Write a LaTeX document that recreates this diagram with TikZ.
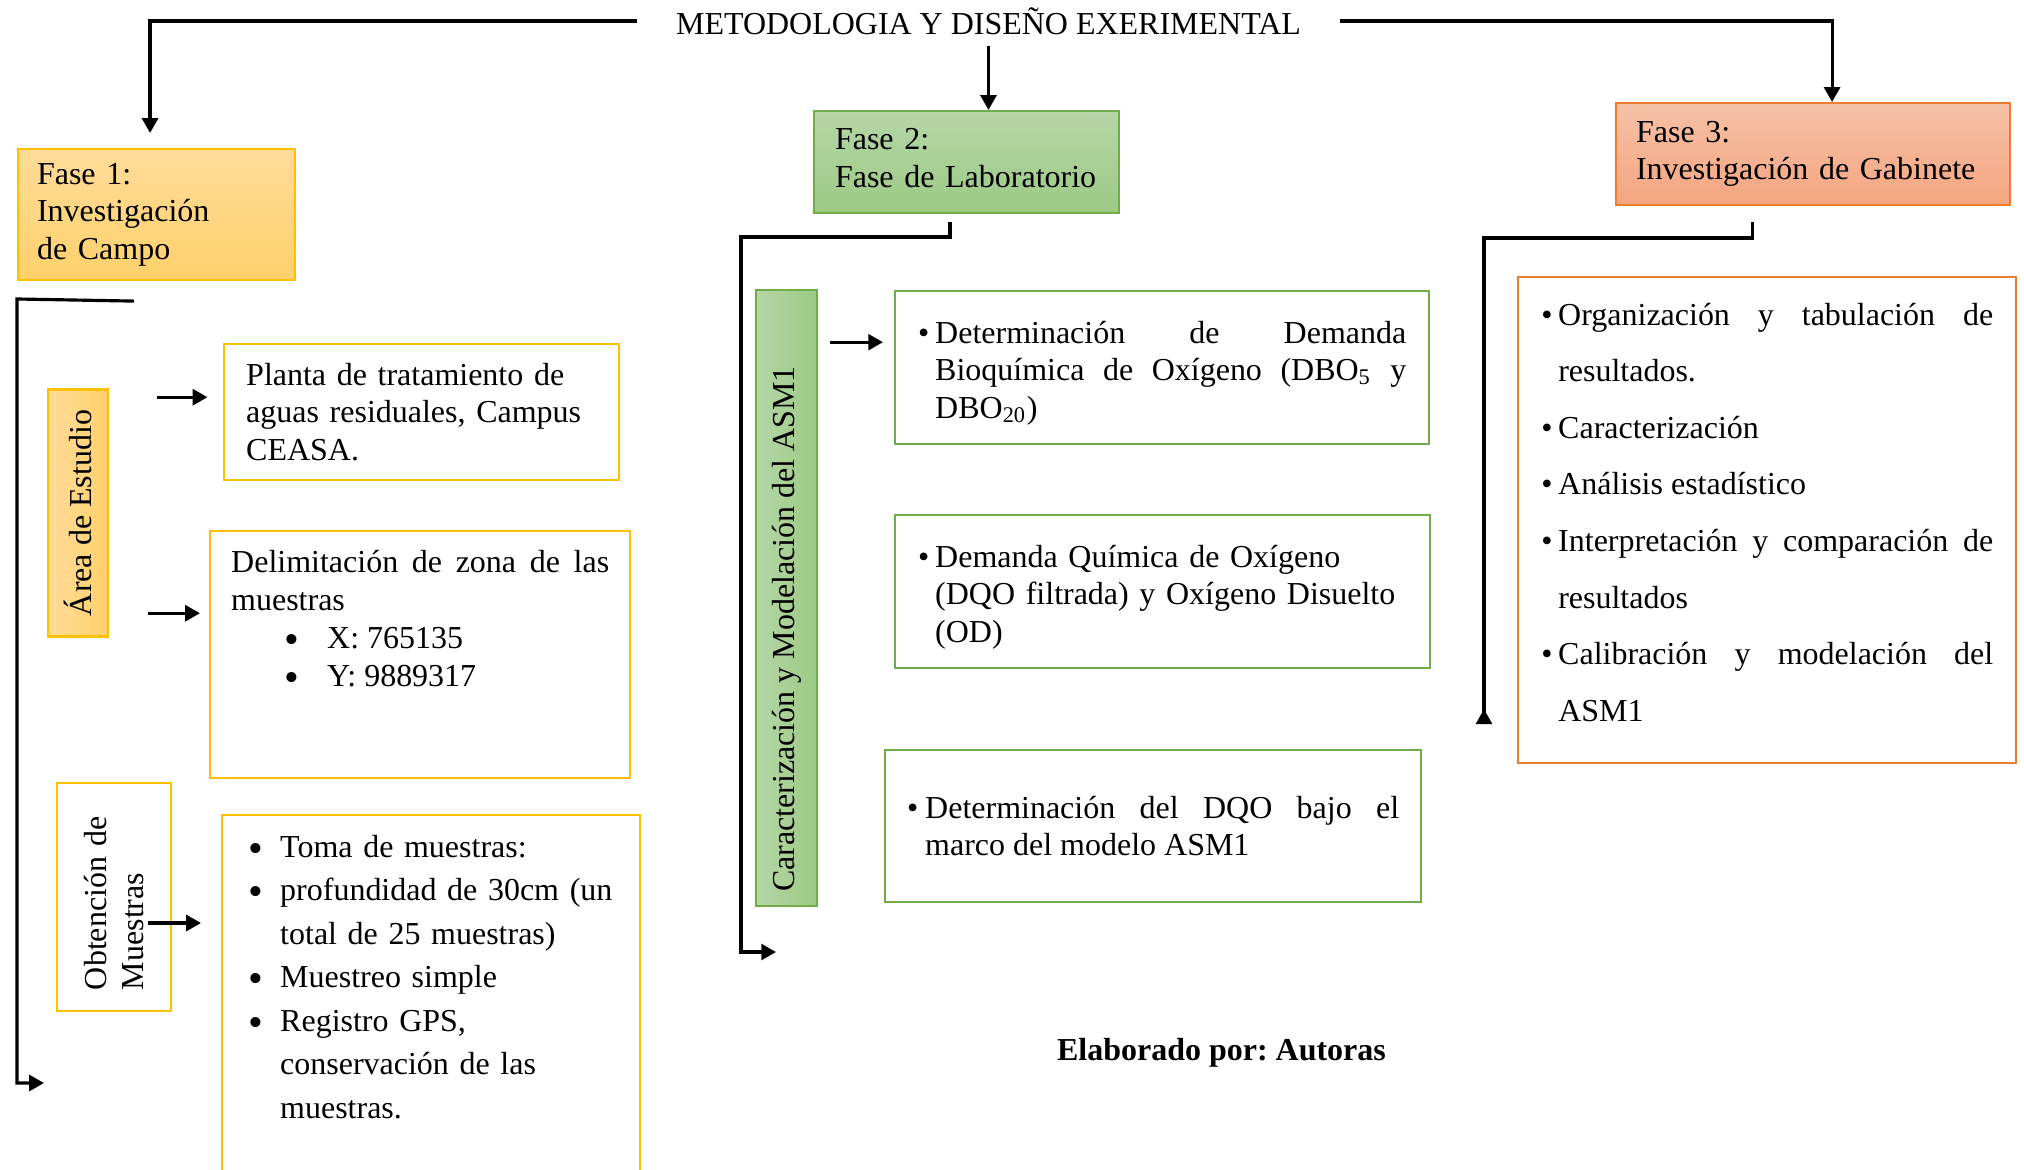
\documentclass[tikz,border=0pt]{standalone}
\usepackage{fontspec}
\setmainfont{Liberation Serif}
\usepackage{xcolor}
\usetikzlibrary{arrows.meta}

\definecolor{gold}{HTML}{FFC000}
\definecolor{goldtop}{HTML}{FFDB99}
\definecolor{goldbot}{HTML}{FFD16B}
\definecolor{leaf}{HTML}{70AD47}
\definecolor{leaftop}{HTML}{B5D6A7}
\definecolor{leafbot}{HTML}{9CCA84}
\definecolor{rust}{HTML}{ED7D31}
\definecolor{rusttop}{HTML}{F6C1A6}
\definecolor{rustbot}{HTML}{F4A580}

% bullet item: lead space, bullet box
\newcommand\bitem[2]{\hangindent=\dimexpr#1+#2\relax\hangafter=1\noindent\hspace*{#1}\makebox[#2][l]{\textbullet}}
% same with the larger list bullet
\newcommand\lbitem[2]{\hangindent=\dimexpr#1+#2\relax\hangafter=1\noindent\hspace*{#1}\makebox[#2][l]{\smash{\raisebox{-1.4pt}{\fontsize{12}{12}\selectfont\textbullet}}}}

\frenchspacing

\begin{document}
\begin{tikzpicture}[
	font=\fontsize{9.1}{10.67}\selectfont,
	conn/.style={line width=0.9pt, -{Triangle[width=4.5pt,length=4.2pt]}},
	revconn/.style={line width=0.9pt, -{Triangle[reversed,width=4.5pt,length=4.2pt]}},
	fasebox/.style={draw, line width=0.6pt, anchor=north west, align=left, inner ysep=0pt},
	txtbox/.style={draw, line width=0.7pt, anchor=north west, inner ysep=0pt},
	sidebox/.style={draw, line width=0.6pt, rotate=90, inner sep=0pt}
]

\useasboundingbox (0,0) rectangle (20.24,-11.70);

\node (title) at (9.885,-0.21) [inner xsep=0.38cm, inner ysep=3pt] {METODOLOGIA Y DISEÑO EXERIMENTAL};

% fases
\node (fase1) at (0.17,-1.48) [fasebox, draw=gold, top color=goldtop, bottom color=goldbot,
	inner xsep=0.19cm, text width=2.39cm, minimum height=1.31cm] {Fase 1:\\Investigación\\de Campo};
\node (fase2) at (8.13,-1.10) [fasebox, draw=leaf, top color=leaftop, bottom color=leafbot,
	inner xsep=0.21cm, text width=2.63cm, minimum height=1.02cm] {Fase 2:\\Fase de Laboratorio\vspace{0.08cm}};
\node (fase3) at (16.15,-1.02) [fasebox, draw=rust, top color=rusttop, bottom color=rustbot,
	inner xsep=0.20cm, text width=3.54cm, minimum height=1.02cm] {Fase 3:\\Investigación de Gabinete};

\draw[conn] (title.west) -| ([xshift=-0.065cm, yshift=0.15cm]fase1.north);
\draw[conn] (title.south) -- (title.south |- fase2.north);
\draw[conn] (title.east) -| ([xshift=0.19cm]fase3.north);

% fase 1
\node (area) at (0.78,-5.13) [sidebox, draw=gold, left color=goldtop, right color=goldbot,
	minimum width=2.47cm, minimum height=0.60cm] {Área de Estudio};
\node (obt) at (1.14,-8.97) [sidebox, draw=gold, fill=white, align=left, inner xsep=0.21cm,
	text width=1.86cm, minimum height=1.14cm] {Obtención de\\Muestras};

\node (planta) at (2.23,-3.43) [txtbox, draw=gold, align=left, inner xsep=0.22cm,
	text width=3.51cm, text height=0.41cm, text depth=0.95cm]
	{Planta de tratamiento de\\aguas residuales, Campus\\CEASA.};
\node (delim) at (2.09,-5.30) [txtbox, draw=gold, align=justify, inner xsep=0.21cm,
	text width=3.78cm, text height=0.41cm, text depth=2.06cm, font=\fontsize{9.1}{10.8}\selectfont]
	{Delimitación de zona de las\linebreak muestras\par
	\lbitem{0.53cm}{0.43cm}X: 765135\par
	\lbitem{0.53cm}{0.43cm}Y: 9889317\par};
\node (toma) at (2.21,-8.14) [txtbox, draw=gold, align=left, inner xsep=0.26cm,
	text width=3.66cm, text height=0.42cm, text depth=3.40cm, font=\fontsize{9.1}{12.38}\selectfont]
	{\lbitem{0pt}{0.32cm}Toma de muestras:\par
	\lbitem{0pt}{0.32cm}profundidad de 30cm (un\newline total de 25 muestras)\par
	\lbitem{0pt}{0.32cm}Muestreo simple\par
	\lbitem{0pt}{0.32cm}Registro GPS,\newline conservación de las\newline muestras.\par};

\draw[conn] ([shift={(-0.665,0.15)}]planta.west) -- ([shift={(-0.155,0.15)}]planta.west);
\draw[conn] ([shift={(-0.61,0.415)}]delim.west) -- ([shift={(-0.09,0.415)}]delim.west);
\draw[conn] ([shift={(-0.73,-1.09)}]toma.north west) -- ([shift={(-0.20,-1.09)}]toma.north west);

\coordinate (campoturn) at (0.17,-2.99);
\coordinate (campoend) at (0.44,-10.83);
\draw[conn] ([xshift=-0.225cm, yshift=-0.2cm]fase1.south) -- (campoturn) |- (campoend);

% fase 2
\node (caract) at (7.865,-5.98) [sidebox, draw=leaf, left color=leaftop, right color=leafbot,
	minimum width=6.16cm, minimum height=0.61cm] {Caracterización y Modelación del ASM1\hspace*{0.62cm}};

\node (dbo) at (8.94,-2.90) [txtbox, draw=leaf, align=justify, inner xsep=0.23cm,
	text width=4.88cm, text height=0.52cm, text depth=1.01cm]
	{\bitem{0pt}{0.17cm}Determinación de Demanda\linebreak Bioquímica de Oxígeno (DBO\textsubscript{5} y\linebreak DBO\textsubscript{20})\par};
\node (dqo) at (8.94,-5.14) [txtbox, draw=leaf, align=left, inner xsep=0.23cm,
	text width=4.89cm, text height=0.52cm, text depth=1.01cm]
	{\bitem{0pt}{0.17cm}Demanda Química de Oxígeno\newline (DQO filtrada) y Oxígeno Disuelto\newline (OD)\par};
\node (asm) at (8.84,-7.49) [txtbox, draw=leaf, align=justify, inner xsep=0.22cm,
	text width=4.92cm, text height=0.68cm, text depth=0.84cm]
	{\bitem{0pt}{0.18cm}Determinación del DQO bajo el\linebreak marco del modelo ASM1\par};

\draw[conn] ([shift={(-0.64,0.255)}]dbo.west) -- ([shift={(-0.11,0.255)}]dbo.west);

\coordinate (labturn) at (7.41,-2.37);
\coordinate (labend) at (7.76,-9.52);
\draw[conn] ([xshift=-0.165cm, yshift=-0.08cm]fase2.south) |- (labturn) |- (labend);

\node (autor) at (12.215,-10.53) {\bfseries Elaborado por: Autoras};

% fase 3
\node (gab) at (15.17,-2.76) [txtbox, draw=rust, align=justify, inner xsep=0.23cm,
	text width=4.52cm, text height=0.48cm, text depth=4.38cm, font=\fontsize{9.1}{16.1}\selectfont]
	{\bitem{0pt}{0.17cm}Organización y tabulación de\linebreak resultados.\par
	\bitem{0pt}{0.17cm}Caracterización\par
	\bitem{0pt}{0.17cm}Análisis estadístico\par
	\bitem{0pt}{0.17cm}Interpretación y comparación de\linebreak resultados\par
	\bitem{0pt}{0.17cm}Calibración y modelación del\linebreak ASM1\par};

\coordinate (gabturn) at (14.84,-2.38);
\coordinate (gabend) at (14.84,-7.24);
\draw[revconn] ([xshift=-0.61cm, yshift=-0.16cm]fase3.south) |- (gabturn) -- (gabend);

\end{tikzpicture}
\end{document}
